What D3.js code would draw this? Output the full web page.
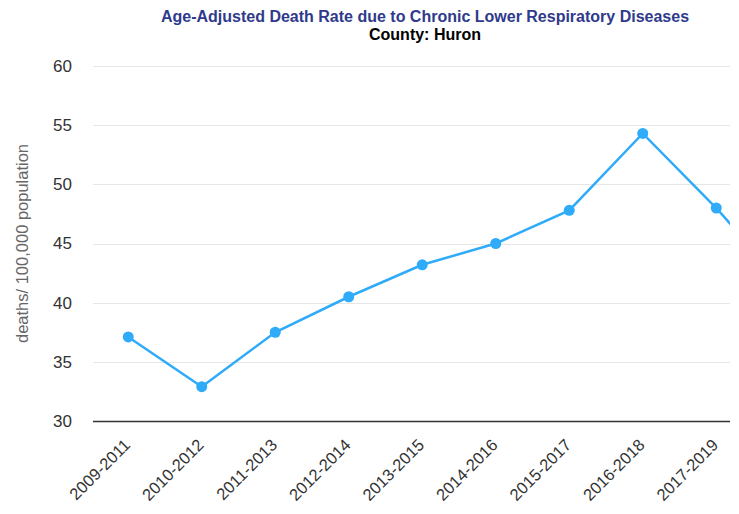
<!DOCTYPE html>
<html>
<head>
<meta charset="utf-8">
<script src="https://cdn.jsdelivr.net/npm/d3@7"></script>
<style>
  body { margin: 0; background: #fff; }
  #viz { width: 730px; height: 514px; overflow: hidden; }
  text { font-family: "Liberation Sans", Arial, sans-serif; }
</style>
</head>
<body>
<div id="viz"></div>
<script>
var periods = ["2009-2011", "2010-2012", "2011-2013", "2012-2014", "2013-2015",
               "2014-2016", "2015-2017", "2016-2018", "2017-2019", "2018-2020"];
var rates = [37.1, 32.9, 37.5, 40.5, 43.2, 45.0, 47.8, 54.3, 48.0, 41.0];
var yTicks = [30, 35, 40, 45, 50, 55, 60];

var margin = {top: 66, right: 22, bottom: 93, left: 91.5},
    width = 735,
    height = 421 - 66;

var svg = d3.select("#viz").append("svg")
    .attr("width", margin.left + width + margin.right)
    .attr("height", 514);

// titles
var cx = 425;
svg.append("text")
    .attr("x", cx).attr("y", 22)
    .attr("text-anchor", "middle")
    .attr("font-size", "16px").attr("font-weight", "bold")
    .attr("fill", "#2f3a8c")
    .text("Age-Adjusted Death Rate due to Chronic Lower Respiratory Diseases");
svg.append("text")
    .attr("x", cx).attr("y", 40)
    .attr("text-anchor", "middle")
    .attr("font-size", "16px").attr("font-weight", "bold")
    .attr("fill", "#000")
    .text("County: Huron");

var g = svg.append("g").attr("transform", "translate(" + margin.left + "," + margin.top + ")");

var x = d3.scaleBand().domain(periods).range([0, width]);
var y = d3.scaleLinear().domain([30, 60]).range([height, 0]);

// grid lines
g.selectAll(".grid").data(yTicks.slice(1)).enter().append("line")
    .attr("x1", 1.5).attr("x2", width)
    .attr("y1", function(d){ return Math.round(y(d)) + 0.5 })
    .attr("y2", function(d){ return Math.round(y(d)) + 0.5 })
    .attr("stroke", "#e6e6e6").attr("stroke-width", 1);

// y labels
g.selectAll(".ylab").data(yTicks).enter().append("text")
    .attr("x", -19.5).attr("y", function(d){ return y(d) })
    .attr("dy", "0.35em")
    .attr("text-anchor", "end")
    .attr("font-size", "17px").attr("fill", "#333")
    .text(function(d){ return d });

// x axis line
g.append("line")
    .attr("x1", 1.5).attr("x2", width)
    .attr("y1", height + 0.5).attr("y2", height + 0.5)
    .attr("stroke", "#333").attr("stroke-width", 1.3);

// x labels
g.selectAll(".xlab").data(periods).enter().append("text")
    .attr("text-anchor", "end")
    .attr("font-size", "16.5px").attr("fill", "#333")
    .attr("transform", function(d){
        return "translate(" + (x(d) + x.bandwidth() / 2 + 3) + "," + (height + 25) + ") rotate(-45)";
    })
    .text(function(d){ return d });

// axis title
svg.append("text")
    .attr("transform", "translate(28," + (margin.top + height / 2) + ") rotate(-90)")
    .attr("text-anchor", "middle")
    .attr("font-size", "16.5px").attr("fill", "#666")
    .text("deaths/ 100,000 population");

// line + markers
var line = d3.line()
    .x(function(d, i){ return x(periods[i]) + x.bandwidth() / 2 })
    .y(function(d){ return y(d) });

g.append("path").datum(rates)
    .attr("d", line)
    .attr("fill", "none")
    .attr("stroke", "#2fabf9")
    .attr("stroke-width", 2.5);

g.selectAll(".pt").data(rates).enter().append("circle")
    .attr("cx", function(d, i){ return x(periods[i]) + x.bandwidth() / 2 })
    .attr("cy", function(d){ return y(d) })
    .attr("r", 5.5)
    .attr("fill", "#2fabf9");
</script>
</body>
</html>
